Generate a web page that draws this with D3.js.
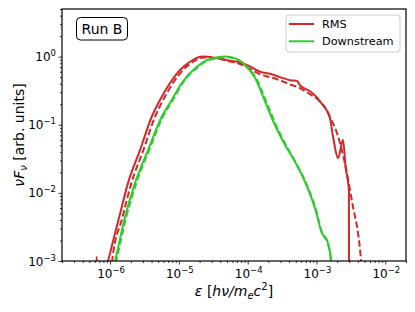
<!DOCTYPE html>
<html><head><meta charset="utf-8">
<script src="https://cdn.jsdelivr.net/npm/d3@7"></script>
<style>body{margin:0;background:#fff} svg{display:block} text{font-family:"DejaVu Sans",sans-serif;fill:#000}</style>
</head><body><svg id="c" width="415" height="312"></svg>
<script>
// ---- data ----
const xDomain = [2e-7, 2e-2];
const yDomain = [1e-3, 5];
const xMajorExp = [-6, -5, -4, -3, -2];
const yMajorExp = [-3, -2, -1, 0];
const seriesNames = ["RMS", "Downstream"];

const rmsSolidX = [6.2e-7, 6.38e-7, 6.55e-7, 8.9e-7, 9.4e-7, 1.0e-6, 1.36e-6, 1.82e-6, 2.72e-6, 4.03e-6, 5.31e-6, 7.43e-6, 1.04e-5, 1.45e-5, 2.24e-5, 3.35e-5, 5.53e-5, 7.73e-5, 1.08e-4, 1.51e-4, 2.11e-4, 2.95e-4, 4.12e-4, 5.21e-4, 5.75e-4, 8.05e-4, 1.02e-3, 1.12e-3, 1.42e-3, 1.57e-3, 1.74e-3, 2.06e-3, 2.43e-3, 2.65e-3, 2.96e-3, 2.97e-3];
const rmsSolidY = [5e-4, 1.15e-3, 5e-4, 5e-4, 1.0e-3, 1.3e-3, 4.46e-3, 1.39e-2, 4.25e-2, 0.131, 0.231, 0.41, 0.636, 0.84, 1.0, 0.96, 0.87, 0.82, 0.72, 0.60, 0.56, 0.50, 0.45, 0.44, 0.38, 0.31, 0.25, 0.22, 0.16, 0.125, 0.0667, 0.0324, 0.0596, 0.0237, 0.011, 1e-4];

const rmsDashX = [1.0e-6, 1.07e-6, 1.52e-6, 2.04e-6, 3.05e-6, 4.5e-6, 5.9e-6, 8.2e-6, 1.12e-5, 1.55e-5, 2.3e-5, 3.4e-5, 5.53e-5, 7.73e-5, 1.08e-4, 1.51e-4, 2.11e-4, 2.95e-4, 4.12e-4, 5.21e-4, 8.05e-4, 1.12e-3, 1.42e-3, 1.57e-3, 1.86e-3, 2.20e-3, 2.77e-3, 3.39e-3, 4.01e-3, 4.43e-3, 4.6e-3];
const rmsDashY = [5e-4, 1e-3, 4.46e-3, 1.39e-2, 4.25e-2, 0.131, 0.231, 0.41, 0.62, 0.82, 0.97, 0.95, 0.85, 0.78, 0.66, 0.55, 0.50, 0.45, 0.39, 0.36, 0.28, 0.22, 0.16, 0.13, 0.09, 0.0538, 0.0195, 0.00625, 0.00257, 1e-3, 5e-4];

const dsSolidX = [1.0e-6, 1.18e-6, 1.65e-6, 2.30e-6, 3.56e-6, 5.62e-6, 7.87e-6, 1.10e-5, 1.82e-5, 2.54e-5, 3.5e-5, 4.68e-5, 6.5e-5, 9.14e-5, 1.28e-4, 1.79e-4, 2.49e-4, 3.49e-4, 4.87e-4, 6.81e-4, 9.51e-4, 1.20e-3, 1.42e-3, 1.63e-3, 1.7e-3];
const dsSolidY = [5e-4, 1e-3, 4.46e-3, 1.39e-2, 4.25e-2, 0.131, 0.231, 0.41, 0.71, 0.89, 0.97, 1.0, 0.95, 0.753, 0.485, 0.218, 0.099, 0.0504, 0.0286, 0.01456, 0.00598, 0.00257, 0.00203, 1e-3, 5e-4];

const dsDashX = [1.05e-6, 1.23e-6, 1.72e-6, 2.4e-6, 3.7e-6, 5.85e-6, 8.2e-6, 1.14e-5, 1.88e-5, 2.6e-5, 3.6e-5, 4.8e-5, 6.6e-5, 9.4e-5, 1.33e-4, 1.87e-4, 2.6e-4, 3.65e-4, 5.1e-4, 7.1e-4, 9.8e-4, 1.22e-3, 1.44e-3, 1.62e-3, 1.68e-3];
const dsDashY = [5e-4, 1e-3, 4.46e-3, 1.39e-2, 4.25e-2, 0.131, 0.231, 0.41, 0.70, 0.87, 0.95, 0.98, 0.93, 0.74, 0.48, 0.215, 0.097, 0.049, 0.027, 0.0138, 0.0057, 0.0025, 0.0019, 1e-3, 5e-4];

// ---- layout ----
const L = 62, R = 406, T = 9, B = 261;
const red = "#d62728", green = "#2ecc2e";
const svg = d3.select("#c");
const x = d3.scaleLog().domain(xDomain).range([L, R]);
const y = d3.scaleLog().domain(yDomain).range([B, T]);

svg.append("defs").append("clipPath").attr("id", "clip")
  .append("rect").attr("x", L).attr("y", T).attr("width", R - L).attr("height", B - T);

function minors(dom) {
  const out = [];
  const e0 = Math.floor(Math.log10(dom[0])), e1 = Math.ceil(Math.log10(dom[1]));
  for (let e = e0; e <= e1; e++) for (let m = 2; m <= 9; m++) {
    const v = m * Math.pow(10, e);
    if (v >= dom[0] && v <= dom[1]) out.push(v);
  }
  return out;
}

// axes
const gx = svg.append("g").attr("transform", `translate(0,${B})`);
gx.call(d3.axisBottom(x).tickValues(minors(xDomain)).tickSize(2).tickFormat(""));
gx.call(g => g.select(".domain").remove());
const gx2 = svg.append("g").attr("transform", `translate(0,${B})`);
gx2.call(d3.axisBottom(x).tickValues(xMajorExp.map(e => Math.pow(10, e))).tickSize(3.5).tickFormat(""));
gx2.select(".domain").remove();

const gy = svg.append("g").attr("transform", `translate(${L},0)`);
gy.call(d3.axisLeft(y).tickValues(minors(yDomain)).tickSize(2).tickFormat(""));
gy.select(".domain").remove();
const gy2 = svg.append("g").attr("transform", `translate(${L},0)`);
gy2.call(d3.axisLeft(y).tickValues(yMajorExp.map(e => Math.pow(10, e))).tickSize(3.5).tickFormat(""));
gy2.select(".domain").remove();
svg.selectAll("g.tick line").attr("stroke", "#000").attr("stroke-width", 0.8);

function sup(e) { return e < 0 ? "\u2212" + (-e) : String(e); }
xMajorExp.forEach(e => {
  const t = svg.append("text").attr("x", x(Math.pow(10, e)) + 1).attr("y", B + 17)
    .attr("text-anchor", "middle").attr("font-size", 12);
  t.append("tspan").text("10");
  t.append("tspan").attr("dy", -5).attr("font-size", 8.5).text(sup(e));
});
yMajorExp.forEach(e => {
  const t = svg.append("text").attr("x", L - 6).attr("y", y(Math.pow(10, e)) + 4.5)
    .attr("text-anchor", "end").attr("font-size", 12);
  t.append("tspan").text("10");
  t.append("tspan").attr("dy", -5).attr("font-size", 8.5).text(sup(e));
});

// lines
const line = d3.line().x(d => x(d[0])).y(d => y(d[1])).curve(d3.curveMonotoneX);
const plot = svg.append("g").attr("clip-path", "url(#clip)");
function draw(xs, ys, color, dash) {
  plot.append("path").datum(xs.map((v, i) => [v, ys[i]]))
    .attr("d", line).attr("fill", "none").attr("stroke", color)
    .attr("stroke-width", 2).attr("stroke-linejoin", "round")
    .attr("stroke-dasharray", dash ? "6.5,3" : null);
}
draw(rmsDashX, rmsDashY, red, true);
draw(rmsSolidX, rmsSolidY, red, false);
draw(dsDashX, dsDashY, green, true);
draw(dsSolidX, dsSolidY, green, false);

// frame
svg.append("rect").attr("x", L).attr("y", T).attr("width", R - L).attr("height", B - T)
  .attr("fill", "none").attr("stroke", "#000").attr("stroke-width", 1.2);

// axis labels
const xl = svg.append("text").attr("x", (L + R) / 2).attr("y", B + 35).attr("text-anchor", "middle").attr("font-size", 14);
xl.append("tspan").attr("font-style", "italic").text("\u03b5");
xl.append("tspan").text(" [");
xl.append("tspan").attr("font-style", "italic").text("h\u03bd/m");
xl.append("tspan").attr("font-style", "italic").attr("font-size", 10).attr("dy", 3).text("e");
xl.append("tspan").attr("font-style", "italic").attr("dy", -3).text("c");
xl.append("tspan").attr("font-size", 10).attr("dy", -6).text("2");
xl.append("tspan").attr("dy", 6).text("]");

const yl = svg.append("text").attr("transform", `translate(24,${(T + B) / 2}) rotate(-90)`)
  .attr("text-anchor", "middle").attr("font-size", 14);
yl.append("tspan").attr("font-style", "italic").text("\u03bdF");
yl.append("tspan").attr("font-style", "italic").attr("font-size", 10).attr("dy", 3).text("\u03bd");
yl.append("tspan").attr("dy", -3).text(" [arb. units]");

// Run B box
svg.append("rect").attr("x", 76.5).attr("y", 17.5).attr("width", 51).attr("height", 22.5)
  .attr("rx", 4).attr("fill", "#fff").attr("stroke", "#000").attr("stroke-width", 1);
svg.append("text").attr("x", 102).attr("y", 34).attr("text-anchor", "middle").attr("font-size", 14).text("Run B");

// legend
svg.append("rect").attr("x", 286).attr("y", 15).attr("width", 114).attr("height", 37)
  .attr("rx", 3).attr("fill", "#fff").attr("fill-opacity", 0.8).attr("stroke", "#ccc").attr("stroke-width", 1);
[[red, 24], [green, 41.3]].forEach(([c, yy], i) => {
  svg.append("line").attr("x1", 289).attr("x2", 314).attr("y1", yy).attr("y2", yy)
    .attr("stroke", c).attr("stroke-width", 2);
  svg.append("text").attr("x", 322).attr("y", yy + 4).attr("font-size", 11.3).text(seriesNames[i]);
});
</script></body></html>
